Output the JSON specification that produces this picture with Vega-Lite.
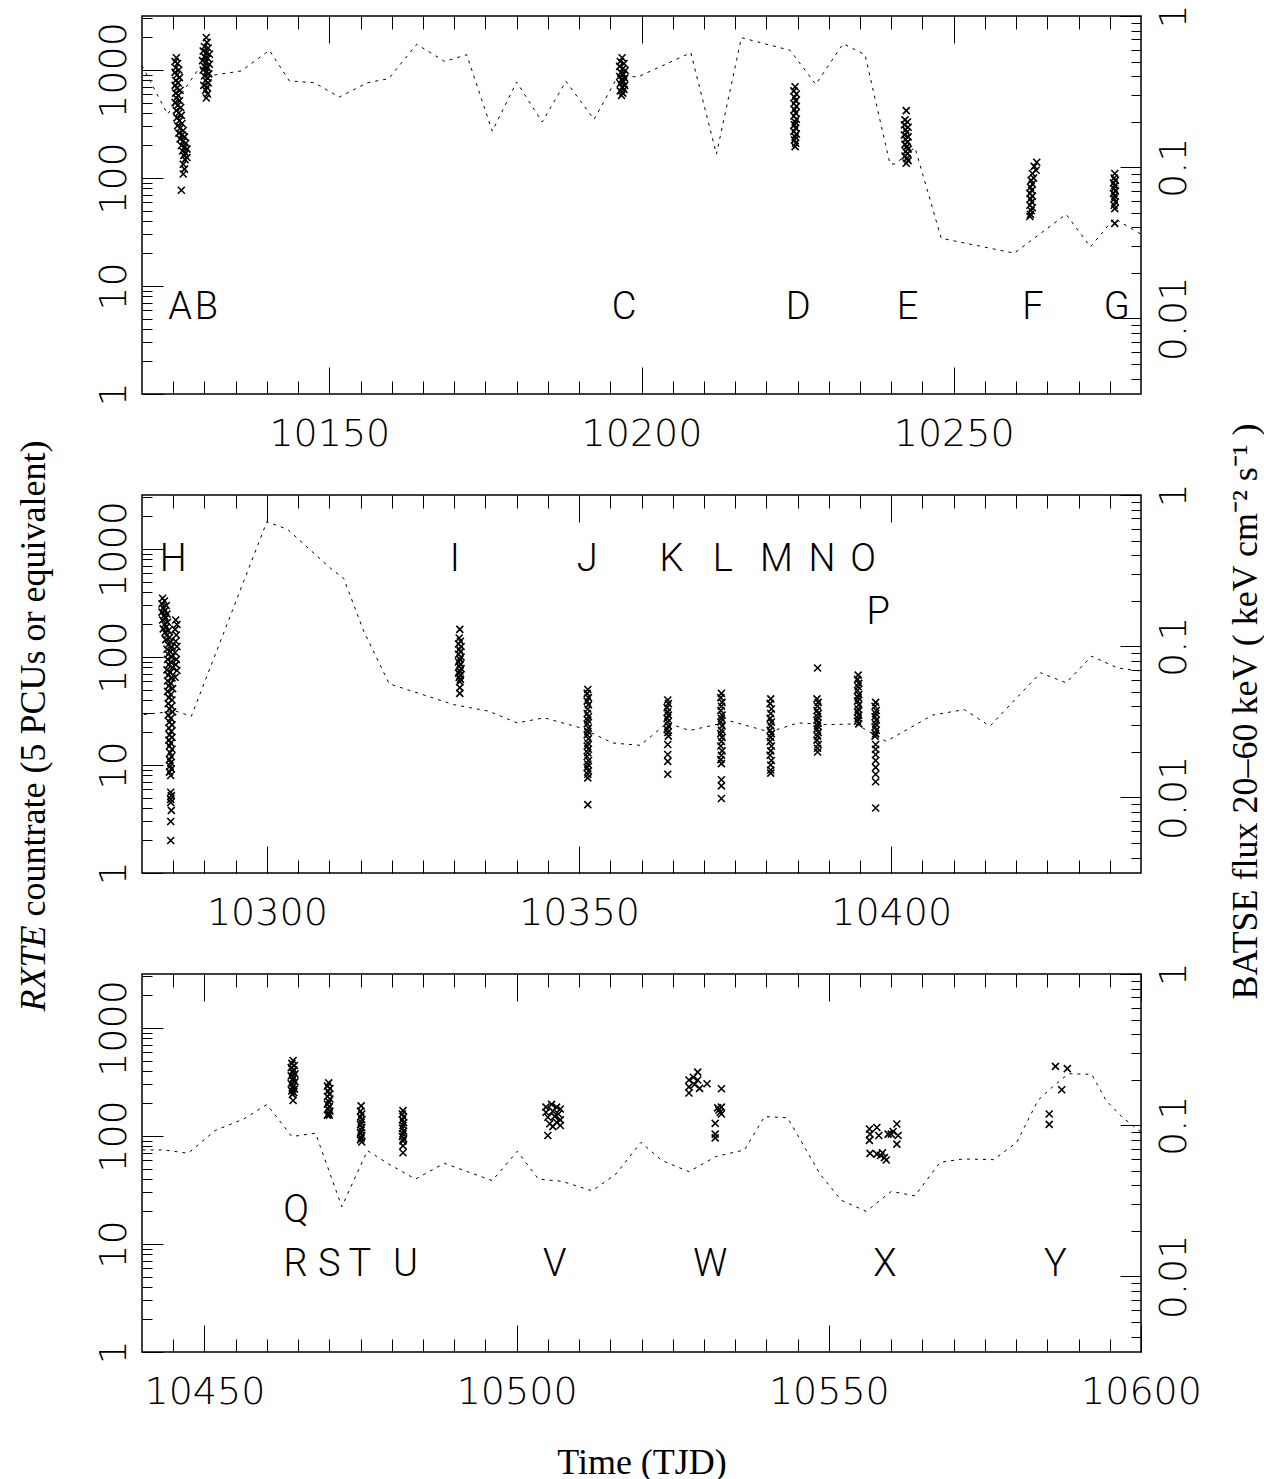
{
"$schema": "https://vega.github.io/schema/vega-lite/v6.json",
"padding": {"left": 14, "top": 3, "right": 0, "bottom": 0},
"background": "white",
"config": {
 "view": {"stroke": "black", "strokeWidth": 1.5},
 "axis": {"grid": false, "domain": false, "tickColor": "black", "tickWidth": 1, "labelColor": "black", "labelFont": "DejaVu Sans", "labelFontWeight": 200, "labelFontSize": 38, "titleColor": "black", "titleFont": "Liberation Serif", "titleFontSize": 36, "titleFontWeight": "normal", "labelOverlap": false, "labelFlush": false, "labelBound": false}
},
"datasets": {
 "p1": [
  {"t":10125.5,"r":1300},{"t":10125.3,"r":1200},{"t":10125.7,"r":1150},{"t":10125.4,"r":1050},{"t":10125.9,"r":1000},{"t":10125.3,"r":950},{"t":10125.6,"r":900},{"t":10126.0,"r":850},{"t":10125.4,"r":800},{"t":10125.8,"r":760},{"t":10125.3,"r":720},{"t":10125.6,"r":680},{"t":10126.1,"r":650},{"t":10125.4,"r":610},{"t":10125.8,"r":580},{"t":10125.5,"r":550},{"t":10126.0,"r":520},{"t":10125.3,"r":500},{"t":10125.7,"r":470},{"t":10126.2,"r":450},{"t":10125.5,"r":420},{"t":10125.9,"r":400},{"t":10126.3,"r":380},{"t":10125.6,"r":360},{"t":10126.0,"r":340},{"t":10126.4,"r":320},{"t":10125.7,"r":305},{"t":10126.1,"r":290},{"t":10126.6,"r":275},{"t":10125.9,"r":260},{"t":10126.4,"r":250},{"t":10126.8,"r":240},{"t":10126.1,"r":230},{"t":10126.6,"r":220},{"t":10127.0,"r":210},{"t":10126.3,"r":200},{"t":10126.8,"r":192},{"t":10127.2,"r":185},{"t":10126.5,"r":178},{"t":10127.0,"r":170},{"t":10126.7,"r":162},{"t":10127.2,"r":155},{"t":10126.9,"r":148},{"t":10126.6,"r":134},{"t":10126.8,"r":121},{"t":10126.6,"r":109},{"t":10126.3,"r":77},
  {"t":10130.3,"r":2000},{"t":10130.4,"r":1800},{"t":10130.0,"r":1650},{"t":10130.6,"r":1600},{"t":10129.8,"r":1500},{"t":10130.3,"r":1450},{"t":10130.8,"r":1400},{"t":10130.0,"r":1330},{"t":10130.5,"r":1280},{"t":10129.7,"r":1220},{"t":10130.2,"r":1180},{"t":10130.8,"r":1130},{"t":10130.0,"r":1080},{"t":10130.5,"r":1040},{"t":10129.8,"r":1000},{"t":10130.3,"r":960},{"t":10130.7,"r":920},{"t":10130.0,"r":880},{"t":10130.5,"r":840},{"t":10130.2,"r":800},{"t":10130.6,"r":760},{"t":10129.9,"r":720},{"t":10130.4,"r":690},{"t":10130.2,"r":650},{"t":10130.5,"r":600},{"t":10130.3,"r":550},
  {"t":10196.9,"r":1300},{"t":10196.6,"r":1200},{"t":10197.2,"r":1150},{"t":10196.5,"r":1080},{"t":10197.0,"r":1030},{"t":10197.4,"r":990},{"t":10196.7,"r":950},{"t":10197.1,"r":910},{"t":10196.5,"r":870},{"t":10197.3,"r":840},{"t":10196.8,"r":810},{"t":10197.1,"r":780},{"t":10196.6,"r":750},{"t":10197.3,"r":720},{"t":10196.9,"r":690},{"t":10197.2,"r":660},{"t":10196.6,"r":640},{"t":10197.0,"r":610},{"t":10196.8,"r":580},
  {"t":10224.6,"r":700},{"t":10224.4,"r":640},{"t":10224.8,"r":600},{"t":10224.5,"r":560},{"t":10224.7,"r":520},{"t":10224.4,"r":490},{"t":10224.8,"r":460},{"t":10224.5,"r":430},{"t":10224.7,"r":400},{"t":10224.4,"r":375},{"t":10224.8,"r":350},{"t":10224.6,"r":330},{"t":10224.5,"r":310},{"t":10224.7,"r":290},{"t":10224.4,"r":270},{"t":10224.8,"r":255},{"t":10224.6,"r":240},{"t":10224.5,"r":225},{"t":10224.7,"r":210},{"t":10224.6,"r":195},
  {"t":10242.4,"r":420},{"t":10242.2,"r":345},{"t":10242.6,"r":330},{"t":10242.1,"r":310},{"t":10242.7,"r":295},{"t":10242.3,"r":280},{"t":10242.5,"r":265},{"t":10242.1,"r":250},{"t":10242.7,"r":240},{"t":10242.3,"r":228},{"t":10242.6,"r":215},{"t":10242.2,"r":205},{"t":10242.5,"r":195},{"t":10242.7,"r":185},{"t":10242.3,"r":176},{"t":10242.6,"r":168},{"t":10242.2,"r":160},{"t":10242.5,"r":152},{"t":10242.7,"r":145},{"t":10242.4,"r":137},
  {"t":10263.3,"r":140},{"t":10262.9,"r":128},{"t":10263.2,"r":118},{"t":10262.6,"r":110},{"t":10262.8,"r":100},{"t":10262.4,"r":95},{"t":10262.6,"r":88},{"t":10262.3,"r":82},{"t":10262.5,"r":77},{"t":10262.2,"r":72},{"t":10262.6,"r":68},{"t":10262.3,"r":64},{"t":10262.5,"r":60},{"t":10262.2,"r":56},{"t":10262.6,"r":53},{"t":10262.4,"r":50},{"t":10262.3,"r":46},{"t":10262.2,"r":44},
  {"t":10275.8,"r":110},{"t":10275.7,"r":100},{"t":10275.9,"r":95},{"t":10275.6,"r":90},{"t":10275.8,"r":85},{"t":10275.7,"r":80},{"t":10275.9,"r":76},{"t":10275.6,"r":72},{"t":10275.8,"r":68},{"t":10275.7,"r":64},{"t":10275.9,"r":60},{"t":10275.7,"r":56},{"t":10275.8,"r":52},{"t":10275.8,"r":38}
 ],
 "p2": [
  {"t":10283.3,"r":350},{"t":10283.6,"r":330},{"t":10283.2,"r":310},{"t":10283.9,"r":300},{"t":10283.4,"r":285},{"t":10283.7,"r":270},{"t":10283.2,"r":260},{"t":10284.0,"r":250},{"t":10283.5,"r":240},{"t":10283.8,"r":230},{"t":10283.3,"r":220},{"t":10284.1,"r":210},{"t":10283.6,"r":200},{"t":10283.9,"r":190},{"t":10283.4,"r":182},{"t":10284.2,"r":175},{"t":10283.7,"r":168},
  {"t":10284.0,"r":160},{"t":10284.4,"r":152},{"t":10283.8,"r":145},{"t":10284.6,"r":138},{"t":10284.2,"r":130},{"t":10284.8,"r":124},{"t":10284.0,"r":118},{"t":10284.5,"r":112},{"t":10284.2,"r":106},{"t":10284.8,"r":100},{"t":10284.1,"r":95},{"t":10284.6,"r":90},{"t":10284.3,"r":85},{"t":10284.9,"r":80},{"t":10284.0,"r":76},{"t":10284.5,"r":72},{"t":10284.2,"r":68},{"t":10284.8,"r":64},{"t":10284.1,"r":60},{"t":10284.6,"r":57},{"t":10284.3,"r":54},{"t":10284.9,"r":51},{"t":10284.1,"r":48},{"t":10284.6,"r":45},{"t":10284.3,"r":42},{"t":10284.8,"r":40},{"t":10284.2,"r":37},{"t":10284.7,"r":35},{"t":10284.4,"r":33},{"t":10284.9,"r":31},{"t":10284.2,"r":29},{"t":10284.6,"r":27},{"t":10284.4,"r":25},{"t":10284.8,"r":23.5},{"t":10284.3,"r":22},{"t":10284.7,"r":20.5},{"t":10284.4,"r":19},{"t":10284.8,"r":18},{"t":10284.3,"r":17},{"t":10284.6,"r":16},{"t":10284.4,"r":15},{"t":10284.8,"r":14},{"t":10284.5,"r":13},{"t":10284.7,"r":12},{"t":10284.4,"r":11.2},{"t":10284.6,"r":10.5},{"t":10284.5,"r":9.8},{"t":10284.7,"r":9.2},{"t":10284.4,"r":8.6},{"t":10284.6,"r":8.0},
  {"t":10285.4,"r":220},{"t":10285.6,"r":200},{"t":10285.3,"r":180},{"t":10285.5,"r":160},{"t":10285.4,"r":140},{"t":10285.6,"r":125},{"t":10285.3,"r":110},{"t":10285.5,"r":95},{"t":10285.4,"r":85},{"t":10285.6,"r":75},{"t":10285.3,"r":65},
  {"t":10284.6,"r":5.6},{"t":10284.7,"r":5.2},{"t":10284.6,"r":4.8},{"t":10284.6,"r":4.5},{"t":10284.7,"r":3.8},{"t":10284.6,"r":3.0},{"t":10284.6,"r":2.0},
  {"t":10330.9,"r":180},{"t":10330.8,"r":150},{"t":10331.0,"r":140},{"t":10330.7,"r":132},{"t":10331.1,"r":125},{"t":10330.8,"r":118},{"t":10331.0,"r":112},{"t":10330.7,"r":106},{"t":10331.1,"r":100},{"t":10330.9,"r":95},{"t":10330.7,"r":90},{"t":10331.0,"r":86},{"t":10330.8,"r":82},{"t":10331.1,"r":78},{"t":10330.9,"r":74},{"t":10330.7,"r":71},{"t":10331.0,"r":68},{"t":10330.8,"r":65},{"t":10331.0,"r":62},{"t":10330.9,"r":59},{"t":10330.9,"r":52},{"t":10330.9,"r":46},
  {"t":10351.4,"r":50},{"t":10351.3,"r":46},{"t":10351.5,"r":42},{"t":10351.3,"r":39},{"t":10351.5,"r":36},{"t":10351.4,"r":33},{"t":10351.3,"r":30},{"t":10351.5,"r":28},{"t":10351.4,"r":26},{"t":10351.3,"r":24},{"t":10351.5,"r":22},{"t":10351.4,"r":20.5},{"t":10351.3,"r":19},{"t":10351.5,"r":17.5},{"t":10351.4,"r":16},{"t":10351.3,"r":15},{"t":10351.5,"r":14},{"t":10351.4,"r":13},{"t":10351.3,"r":12},{"t":10351.5,"r":11},{"t":10351.4,"r":10.2},{"t":10351.3,"r":9.5},{"t":10351.5,"r":8.8},{"t":10351.4,"r":8.2},{"t":10351.4,"r":7.6},{"t":10351.4,"r":4.3},
  {"t":10364.2,"r":40},{"t":10364.3,"r":37},{"t":10364.1,"r":34},{"t":10364.2,"r":31},{"t":10364.3,"r":29},{"t":10364.1,"r":27},{"t":10364.2,"r":25},{"t":10364.3,"r":23},{"t":10364.1,"r":21.5},{"t":10364.2,"r":20},{"t":10364.3,"r":18.5},{"t":10364.2,"r":15.5},{"t":10364.2,"r":12.5},{"t":10364.2,"r":10.8},{"t":10364.2,"r":8.2},
  {"t":10372.8,"r":46},{"t":10372.7,"r":42},{"t":10372.9,"r":38},{"t":10372.8,"r":35},{"t":10372.7,"r":32},{"t":10372.9,"r":29},{"t":10372.8,"r":27},{"t":10372.7,"r":25},{"t":10372.9,"r":23},{"t":10372.8,"r":21},{"t":10372.7,"r":19.5},{"t":10372.9,"r":18},{"t":10372.8,"r":16.5},{"t":10372.7,"r":15},{"t":10372.9,"r":13.5},{"t":10372.8,"r":12.3},{"t":10372.7,"r":11.2},{"t":10372.8,"r":10.3},{"t":10372.8,"r":7.3},{"t":10372.8,"r":6.4},{"t":10372.8,"r":4.9},
  {"t":10380.7,"r":41},{"t":10380.6,"r":37},{"t":10380.8,"r":33},{"t":10380.7,"r":30},{"t":10380.6,"r":27},{"t":10380.8,"r":25},{"t":10380.7,"r":23},{"t":10380.6,"r":21},{"t":10380.8,"r":19.5},{"t":10380.7,"r":18},{"t":10380.6,"r":16.5},{"t":10380.8,"r":15},{"t":10380.7,"r":13.5},{"t":10380.6,"r":12.3},{"t":10380.8,"r":11},{"t":10380.7,"r":10},{"t":10380.7,"r":9},{"t":10380.7,"r":8.4},
  {"t":10388.2,"r":79},{"t":10388.1,"r":41},{"t":10388.3,"r":38},{"t":10388.2,"r":35},{"t":10388.1,"r":32},{"t":10388.3,"r":30},{"t":10388.2,"r":28},{"t":10388.1,"r":26},{"t":10388.3,"r":24.5},{"t":10388.2,"r":23},{"t":10388.1,"r":21.5},{"t":10388.3,"r":20},{"t":10388.2,"r":18.5},{"t":10388.1,"r":17},{"t":10388.3,"r":15.5},{"t":10388.2,"r":14.3},{"t":10388.2,"r":13.2},
  {"t":10394.7,"r":68},{"t":10394.6,"r":62},{"t":10394.8,"r":57},{"t":10394.7,"r":53},{"t":10394.6,"r":49},{"t":10394.8,"r":45},{"t":10394.7,"r":42},{"t":10394.6,"r":39},{"t":10394.8,"r":36},{"t":10394.7,"r":33},{"t":10394.6,"r":31},{"t":10394.8,"r":29},{"t":10394.7,"r":27},{"t":10394.6,"r":25.5},{"t":10394.8,"r":24},
  {"t":10397.5,"r":38},{"t":10397.4,"r":35},{"t":10397.6,"r":32},{"t":10397.5,"r":30},{"t":10397.4,"r":28},{"t":10397.6,"r":26},{"t":10397.5,"r":24},{"t":10397.4,"r":22.5},{"t":10397.6,"r":21},{"t":10397.5,"r":19.5},{"t":10397.4,"r":18.5},{"t":10397.5,"r":15.5},{"t":10397.5,"r":14},{"t":10397.5,"r":12.5},{"t":10397.5,"r":11},{"t":10397.5,"r":9.5},{"t":10397.5,"r":8.2},{"t":10397.5,"r":7},{"t":10397.5,"r":4}
 ],
 "p3": [
  {"t":10464.2,"r":500},{"t":10464.0,"r":470},{"t":10464.4,"r":450},{"t":10463.9,"r":430},{"t":10464.3,"r":410},{"t":10464.1,"r":390},{"t":10464.5,"r":375},{"t":10463.9,"r":360},{"t":10464.3,"r":345},{"t":10464.1,"r":330},{"t":10464.5,"r":318},{"t":10463.9,"r":305},{"t":10464.3,"r":293},{"t":10464.1,"r":282},{"t":10464.4,"r":272},{"t":10464.0,"r":262},{"t":10464.3,"r":252},{"t":10464.1,"r":243},{"t":10464.2,"r":213},
  {"t":10469.9,"r":310},{"t":10469.7,"r":290},{"t":10470.1,"r":275},{"t":10469.8,"r":260},{"t":10470.0,"r":245},{"t":10469.7,"r":232},{"t":10470.1,"r":220},{"t":10469.9,"r":208},{"t":10469.7,"r":197},{"t":10470.0,"r":187},{"t":10469.8,"r":178},{"t":10470.1,"r":170},{"t":10469.9,"r":162},{"t":10469.7,"r":156},{"t":10470.0,"r":156},
  {"t":10475.1,"r":190},{"t":10475.0,"r":170},{"t":10475.2,"r":160},{"t":10475.0,"r":150},{"t":10475.2,"r":142},{"t":10475.1,"r":134},{"t":10475.0,"r":127},{"t":10475.2,"r":120},{"t":10475.1,"r":113},{"t":10475.0,"r":107},{"t":10475.2,"r":101},{"t":10475.1,"r":96},{"t":10475.0,"r":92},{"t":10475.2,"r":88},
  {"t":10481.8,"r":172},{"t":10481.7,"r":160},{"t":10481.9,"r":150},{"t":10481.7,"r":141},{"t":10481.9,"r":133},{"t":10481.8,"r":125},{"t":10481.7,"r":118},{"t":10481.9,"r":111},{"t":10481.8,"r":105},{"t":10481.7,"r":99},{"t":10481.9,"r":94},{"t":10481.8,"r":90},{"t":10481.8,"r":81},{"t":10481.8,"r":70},
  {"t":10504.7,"r":185},{"t":10505.6,"r":196},{"t":10506.4,"r":185},{"t":10507.0,"r":178},{"t":10504.7,"r":166},{"t":10505.8,"r":170},{"t":10506.7,"r":160},{"t":10505.0,"r":149},{"t":10506.1,"r":152},{"t":10507.0,"r":141},{"t":10505.3,"r":130},{"t":10506.4,"r":134},{"t":10507.0,"r":125},{"t":10505.8,"r":122},{"t":10505.0,"r":101},
  {"t":10527.6,"r":330},{"t":10527.6,"r":285},{"t":10527.6,"r":250},{"t":10529.0,"r":390},{"t":10529.0,"r":330},{"t":10529.3,"r":276},{"t":10530.5,"r":305},{"t":10528.5,"r":300},{"t":10528.3,"r":350},{"t":10532.8,"r":274},{"t":10532.8,"r":185},{"t":10532.2,"r":182},{"t":10532.6,"r":166},{"t":10532.8,"r":160},{"t":10532.4,"r":174},{"t":10531.8,"r":131},{"t":10531.8,"r":104},{"t":10531.8,"r":96},
  {"t":10556.5,"r":116},{"t":10557.7,"r":120},{"t":10556.6,"r":104},{"t":10558.0,"r":101},{"t":10556.5,"r":91},{"t":10559.5,"r":104},{"t":10560.3,"r":110},{"t":10560.9,"r":129},{"t":10561.1,"r":101},{"t":10560.9,"r":84},{"t":10556.6,"r":69},{"t":10557.7,"r":68},{"t":10558.6,"r":70},{"t":10558.9,"r":63},{"t":10558.3,"r":66},{"t":10560.0,"r":104},{"t":10559.2,"r":60},
  {"t":10585.3,"r":160},{"t":10585.3,"r":128},{"t":10586.3,"r":441},{"t":10588.2,"r":420},{"t":10587.3,"r":268}
 ],
 "b1": [
  {"t":10120.0,"f":0.47},{"t":10124.1,"f":0.224},{"t":10129.2,"f":0.455},{"t":10131.6,"f":0.407},{"t":10135.9,"f":0.433},{"t":10140.4,"f":0.593},{"t":10143.6,"f":0.372},{"t":10147.6,"f":0.362},{"t":10151.6,"f":0.291},{"t":10156.1,"f":0.362},{"t":10159.5,"f":0.385},{"t":10164.0,"f":0.65},{"t":10168.5,"f":0.5},{"t":10172.0,"f":0.555},{"t":10176.1,"f":0.173},{"t":10180.0,"f":0.366},{"t":10184.1,"f":0.199},{"t":10187.9,"f":0.37},{"t":10192.4,"f":0.207},{"t":10196.3,"f":0.405},{"t":10199.4,"f":0.395},{"t":10207.9,"f":0.572},{"t":10212.0,"f":0.122},{"t":10216.0,"f":0.719},{"t":10223.8,"f":0.593},{"t":10227.9,"f":0.353},{"t":10232.3,"f":0.656},{"t":10235.8,"f":0.555},{"t":10239.8,"f":0.105},{"t":10240.6,"f":0.105},{"t":10243.8,"f":0.135},{"t":10248.0,"f":0.0339},{"t":10259.7,"f":0.027},{"t":10268.0,"f":0.0488},{"t":10271.9,"f":0.0297},{"t":10275.7,"f":0.0459},{"t":10280.0,"f":0.036}
 ],
 "b2": [
  {"t":10280.3,"f":0.0353},{"t":10285.4,"f":0.0372},{"t":10287.9,"f":0.0344},{"t":10300.0,"f":0.666},{"t":10303.3,"f":0.593},{"t":10310.4,"f":0.322},{"t":10312.3,"f":0.281},{"t":10315.5,"f":0.126},{"t":10319.6,"f":0.0564},{"t":10329.9,"f":0.0411},{"t":10335.5,"f":0.0372},{"t":10340.1,"f":0.0311},{"t":10344.4,"f":0.0336},{"t":10350.3,"f":0.0288},{"t":10355.4,"f":0.0229},{"t":10359.8,"f":0.0221},{"t":10364.1,"f":0.0311},{"t":10367.7,"f":0.0277},{"t":10374.3,"f":0.0319},{"t":10380.5,"f":0.0271},{"t":10385.1,"f":0.0311},{"t":10389.7,"f":0.0303},{"t":10394.3,"f":0.0306},{"t":10399.2,"f":0.0235},{"t":10406.6,"f":0.035},{"t":10411.7,"f":0.0381},{"t":10415.8,"f":0.0296},{"t":10423.9,"f":0.0667},{"t":10428.0,"f":0.0573},{"t":10432.1,"f":0.0859},{"t":10436.2,"f":0.0719},{"t":10440.0,"f":0.0684}
 ],
 "b3": [
  {"t":10440.1,"f":0.0686},{"t":10443.5,"f":0.0686},{"t":10447.4,"f":0.0652},{"t":10451.7,"f":0.0922},{"t":10456.3,"f":0.11},{"t":10460.0,"f":0.137},{"t":10464.0,"f":0.0841},{"t":10467.8,"f":0.0885},{"t":10472.0,"f":0.0289},{"t":10476.1,"f":0.0679},{"t":10479.5,"f":0.0554},{"t":10483.8,"f":0.044},{"t":10488.4,"f":0.056},{"t":10496.1,"f":0.043},{"t":10500.1,"f":0.0672},{"t":10503.5,"f":0.044},{"t":10507.3,"f":0.0425},{"t":10512.1,"f":0.0368},{"t":10515.9,"f":0.0475},{"t":10519.9,"f":0.077},{"t":10523.3,"f":0.0583},{"t":10527.6,"f":0.0493},{"t":10531.9,"f":0.062},{"t":10536.5,"f":0.0686},{"t":10539.7,"f":0.114},{"t":10543.4,"f":0.112},{"t":10548.6,"f":0.0475},{"t":10552.0,"f":0.0319},{"t":10556.0,"f":0.0269},{"t":10560.0,"f":0.0365},{"t":10563.8,"f":0.0341},{"t":10567.8,"f":0.0568},{"t":10571.5,"f":0.0598},{"t":10576.4,"f":0.0592},{"t":10580.1,"f":0.077},{"t":10583.5,"f":0.146},{"t":10585.8,"f":0.179},{"t":10588.4,"f":0.219},{"t":10592.1,"f":0.217},{"t":10594.4,"f":0.146},{"t":10597.0,"f":0.113},{"t":10600.0,"f":0.0899}
 ],
 "l1": [
  {"t":10126.1,"r":5,"s":"A"},{"t":10130.3,"r":5,"s":"B"},{"t":10197.2,"r":5,"s":"C"},{"t":10225.1,"r":5,"s":"D"},{"t":10242.6,"r":5,"s":"E"},{"t":10262.7,"r":5,"s":"F"},{"t":10276.1,"r":5,"s":"G"}
 ],
 "l2": [
  {"t":10285.0,"r":625,"s":"H"},{"t":10330.1,"r":625,"s":"I"},{"t":10351.3,"r":625,"s":"J"},{"t":10364.8,"r":625,"s":"K"},{"t":10373.0,"r":625,"s":"L"},{"t":10381.6,"r":625,"s":"M"},{"t":10388.9,"r":625,"s":"N"},{"t":10395.5,"r":625,"s":"O"},{"t":10397.9,"r":200,"s":"P"}
 ],
 "l3": [
  {"t":10464.7,"r":16,"s":"Q"},{"t":10464.6,"r":5.1,"s":"R"},{"t":10470.0,"r":5.1,"s":"S"},{"t":10474.9,"r":5.1,"s":"T"},{"t":10482.2,"r":5.1,"s":"U"},{"t":10506.1,"r":5.1,"s":"V"},{"t":10531.0,"r":5.1,"s":"W"},{"t":10559.0,"r":5.1,"s":"X"},{"t":10586.3,"r":5.1,"s":"Y"}
 ]
},
"spacing": 101,
"bounds": "flush",
"vconcat": [
 {
  "width": 999, "height": 378,
  "resolve": {"scale": {"y": "independent"}, "axis": {"x": "independent", "y": "independent"}},
  "layer": [
   {"data": {"name": "p1"},
    "mark": {"type": "point", "shape": "M-1,-1L1,1M1,-1L-1,1", "filled": false, "color": "black", "strokeWidth": 1.6, "size": 49, "opacity": 1},
    "encoding": {
     "x": {"field": "t", "type": "quantitative", "scale": {"domain": [10120, 10280], "nice": false, "zero": false}, "axis": {"orient": "bottom", "values": [10150, 10200, 10250], "tickSize": -27, "labelPadding": 78, "labelAlign": "center", "labelBaseline": "alphabetic", "format": "d", "title": null}},
     "y": {"field": "r", "type": "quantitative", "scale": {"type": "log", "domain": [1, 3162.3], "nice": false}, "axis": {"orient": "left", "values": [1, 10, 100, 1000], "tickSize": -21, "labelPadding": 38, "labelAngle": -90, "labelAlign": "center", "labelBaseline": "alphabetic", "format": "d", "title": null}}
    }},
   {"data": {"name": "b1"},
    "mark": {"type": "line", "color": "black", "strokeWidth": 1, "strokeDash": [3, 5]},
    "encoding": {
     "x": {"field": "t", "type": "quantitative", "scale": {"domain": [10120, 10280], "nice": false, "zero": false}, "axis": {"orient": "top", "values": [10150, 10200, 10250], "tickSize": -27, "labels": false, "title": null}},
     "y": {"field": "f", "type": "quantitative", "scale": {"type": "log", "domain": [0.0031623, 1], "nice": false}, "axis": {"orient": "right", "values": [0.01, 0.1, 1], "tickSize": -21, "labelPadding": 65, "labelAngle": -90, "labelAlign": "center", "labelBaseline": "alphabetic", "format": "~g", "title": null}}
    }},
   {"data": {"name": "l1"},
    "mark": {"type": "text", "font": "Roboto", "fontWeight": 300, "fontSize": 38, "align": "center", "baseline": "alphabetic", "color": "black"},
    "encoding": {
     "x": {"field": "t", "type": "quantitative", "scale": {"domain": [10120, 10280], "nice": false, "zero": false}, "axis": {"orient": "bottom", "values": [10125,10130,10135,10140,10145,10155,10160,10165,10170,10175,10180,10185,10190,10195,10205,10210,10215,10220,10225,10230,10235,10240,10245,10255,10260,10265,10270,10275], "tickSize": -13, "labels": false, "title": null}},
     "y": {"field": "r", "type": "quantitative", "scale": {"type": "log", "domain": [1, 3162.3], "nice": false}, "axis": {"orient": "left", "values": [2,3,4,5,6,7,8,9,20,30,40,50,60,70,80,90,200,300,400,500,600,700,800,900,2000,3000], "tickSize": -10, "labels": false, "title": null}},
     "text": {"field": "s"}
    }},
   {"data": {"name": "b1"},
    "mark": {"type": "point", "opacity": 0},
    "encoding": {
     "x": {"field": "t", "type": "quantitative", "scale": {"domain": [10120, 10280], "nice": false, "zero": false}, "axis": {"orient": "top", "values": [10125,10130,10135,10140,10145,10155,10160,10165,10170,10175,10180,10185,10190,10195,10205,10210,10215,10220,10225,10230,10235,10240,10245,10255,10260,10265,10270,10275], "tickSize": -13, "labels": false, "title": null}},
     "y": {"field": "f", "type": "quantitative", "scale": {"type": "log", "domain": [0.0031623, 1], "nice": false}, "axis": {"orient": "right", "values": [0.004,0.005,0.006,0.007,0.008,0.009,0.02,0.03,0.04,0.05,0.06,0.07,0.08,0.09,0.2,0.3,0.4,0.5,0.6,0.7,0.8,0.9], "tickSize": -10, "labels": false, "title": null}}
    }}
  ]
 },
 {
  "width": 999, "height": 378,
  "resolve": {"scale": {"y": "independent"}, "axis": {"x": "independent", "y": "independent"}},
  "layer": [
   {"data": {"name": "p2"},
    "mark": {"type": "point", "shape": "M-1,-1L1,1M1,-1L-1,1", "filled": false, "color": "black", "strokeWidth": 1.6, "size": 49, "opacity": 1},
    "encoding": {
     "x": {"field": "t", "type": "quantitative", "scale": {"domain": [10280, 10440], "nice": false, "zero": false}, "axis": {"orient": "bottom", "values": [10300, 10350, 10400], "tickSize": -27, "labelPadding": 78, "labelAlign": "center", "labelBaseline": "alphabetic", "format": "d", "title": null}},
     "y": {"field": "r", "type": "quantitative", "scale": {"type": "log", "domain": [1, 3162.3], "nice": false}, "axis": {"orient": "left", "values": [1, 10, 100, 1000], "tickSize": -21, "labelPadding": 38, "labelAngle": -90, "labelAlign": "center", "labelBaseline": "alphabetic", "format": "d", "title": "countrate (5 PCUs or equivalent)", "titleAngle": 270, "titleAlign": "center", "titleBaseline": "alphabetic", "titleX": -98, "titleY": 183}}
    }},
   {"data": {"name": "b2"},
    "mark": {"type": "line", "color": "black", "strokeWidth": 1, "strokeDash": [3, 5]},
    "encoding": {
     "x": {"field": "t", "type": "quantitative", "scale": {"domain": [10280, 10440], "nice": false, "zero": false}, "axis": {"orient": "top", "values": [10300, 10350, 10400], "tickSize": -27, "labels": false, "title": null}},
     "y": {"field": "f", "type": "quantitative", "scale": {"type": "log", "domain": [0.0031623, 1], "nice": false}, "axis": {"orient": "right", "values": [0.01, 0.1, 1], "tickSize": -21, "labelPadding": 65, "labelAngle": -90, "labelAlign": "center", "labelBaseline": "alphabetic", "format": "~g", "title": "BATSE flux 20–60 keV ( keV cm⁻² s⁻¹ )", "titleAngle": 270, "titleAlign": "center", "titleBaseline": "alphabetic", "titleX": 115, "titleY": 216}}
    }},
   {"data": {"name": "l2"},
    "mark": {"type": "text", "font": "Roboto", "fontWeight": 300, "fontSize": 38, "align": "center", "baseline": "alphabetic", "color": "black"},
    "encoding": {
     "x": {"field": "t", "type": "quantitative", "scale": {"domain": [10280, 10440], "nice": false, "zero": false}, "axis": {"orient": "bottom", "values": [10285,10290,10295,10305,10310,10315,10320,10325,10330,10335,10340,10345,10355,10360,10365,10370,10375,10380,10385,10390,10395,10405,10410,10415,10420,10425,10430,10435], "tickSize": -13, "labels": false, "title": null}},
     "y": {"field": "r", "type": "quantitative", "scale": {"type": "log", "domain": [1, 3162.3], "nice": false}, "axis": {"orient": "left", "values": [2,3,4,5,6,7,8,9,20,30,40,50,60,70,80,90,200,300,400,500,600,700,800,900,2000,3000], "tickSize": -10, "labels": false, "title": "RXTE", "titleFontStyle": "italic", "titleAngle": 270, "titleAlign": "center", "titleBaseline": "alphabetic", "titleX": -98, "titleY": 473}},
     "text": {"field": "s"}
    }},
   {"data": {"name": "b2"},
    "mark": {"type": "point", "opacity": 0},
    "encoding": {
     "x": {"field": "t", "type": "quantitative", "scale": {"domain": [10280, 10440], "nice": false, "zero": false}, "axis": {"orient": "top", "values": [10285,10290,10295,10305,10310,10315,10320,10325,10330,10335,10340,10345,10355,10360,10365,10370,10375,10380,10385,10390,10395,10405,10410,10415,10420,10425,10430,10435], "tickSize": -13, "labels": false, "title": null}},
     "y": {"field": "f", "type": "quantitative", "scale": {"type": "log", "domain": [0.0031623, 1], "nice": false}, "axis": {"orient": "right", "values": [0.004,0.005,0.006,0.007,0.008,0.009,0.02,0.03,0.04,0.05,0.06,0.07,0.08,0.09,0.2,0.3,0.4,0.5,0.6,0.7,0.8,0.9], "tickSize": -10, "labels": false, "title": null}}
    }}
  ]
 },
 {
  "width": 999, "height": 378,
  "resolve": {"scale": {"y": "independent"}, "axis": {"x": "independent", "y": "independent"}},
  "layer": [
   {"data": {"name": "p3"},
    "mark": {"type": "point", "shape": "M-1,-1L1,1M1,-1L-1,1", "filled": false, "color": "black", "strokeWidth": 1.6, "size": 49, "opacity": 1},
    "encoding": {
     "x": {"field": "t", "type": "quantitative", "scale": {"domain": [10440, 10600], "nice": false, "zero": false}, "axis": {"orient": "bottom", "values": [10450, 10500, 10550, 10600], "tickSize": -27, "labelPadding": 78, "labelAlign": "center", "labelBaseline": "alphabetic", "format": "d", "title": "Time (TJD)", "titleAlign": "center", "titleBaseline": "alphabetic", "titleX": 499.5, "titleY": 121}},
     "y": {"field": "r", "type": "quantitative", "scale": {"type": "log", "domain": [1, 3162.3], "nice": false}, "axis": {"orient": "left", "values": [1, 10, 100, 1000], "tickSize": -21, "labelPadding": 38, "labelAngle": -90, "labelAlign": "center", "labelBaseline": "alphabetic", "format": "d", "title": null}}
    }},
   {"data": {"name": "b3"},
    "mark": {"type": "line", "color": "black", "strokeWidth": 1, "strokeDash": [3, 5]},
    "encoding": {
     "x": {"field": "t", "type": "quantitative", "scale": {"domain": [10440, 10600], "nice": false, "zero": false}, "axis": {"orient": "top", "values": [10450, 10500, 10550, 10600], "tickSize": -27, "labels": false, "title": null}},
     "y": {"field": "f", "type": "quantitative", "scale": {"type": "log", "domain": [0.0031623, 1], "nice": false}, "axis": {"orient": "right", "values": [0.01, 0.1, 1], "tickSize": -21, "labelPadding": 65, "labelAngle": -90, "labelAlign": "center", "labelBaseline": "alphabetic", "format": "~g", "title": null}}
    }},
   {"data": {"name": "l3"},
    "mark": {"type": "text", "font": "Roboto", "fontWeight": 300, "fontSize": 38, "align": "center", "baseline": "alphabetic", "color": "black"},
    "encoding": {
     "x": {"field": "t", "type": "quantitative", "scale": {"domain": [10440, 10600], "nice": false, "zero": false}, "axis": {"orient": "bottom", "values": [10445,10455,10460,10465,10470,10475,10480,10485,10490,10495,10505,10510,10515,10520,10525,10530,10535,10540,10545,10555,10560,10565,10570,10575,10580,10585,10590,10595], "tickSize": -13, "labels": false, "title": null}},
     "y": {"field": "r", "type": "quantitative", "scale": {"type": "log", "domain": [1, 3162.3], "nice": false}, "axis": {"orient": "left", "values": [2,3,4,5,6,7,8,9,20,30,40,50,60,70,80,90,200,300,400,500,600,700,800,900,2000,3000], "tickSize": -10, "labels": false, "title": null}},
     "text": {"field": "s"}
    }},
   {"data": {"name": "b3"},
    "mark": {"type": "point", "opacity": 0},
    "encoding": {
     "x": {"field": "t", "type": "quantitative", "scale": {"domain": [10440, 10600], "nice": false, "zero": false}, "axis": {"orient": "top", "values": [10445,10455,10460,10465,10470,10475,10480,10485,10490,10495,10505,10510,10515,10520,10525,10530,10535,10540,10545,10555,10560,10565,10570,10575,10580,10585,10590,10595], "tickSize": -13, "labels": false, "title": null}},
     "y": {"field": "f", "type": "quantitative", "scale": {"type": "log", "domain": [0.0031623, 1], "nice": false}, "axis": {"orient": "right", "values": [0.004,0.005,0.006,0.007,0.008,0.009,0.02,0.03,0.04,0.05,0.06,0.07,0.08,0.09,0.2,0.3,0.4,0.5,0.6,0.7,0.8,0.9], "tickSize": -10, "labels": false, "title": null}}
    }}
  ]
 }
]
}
